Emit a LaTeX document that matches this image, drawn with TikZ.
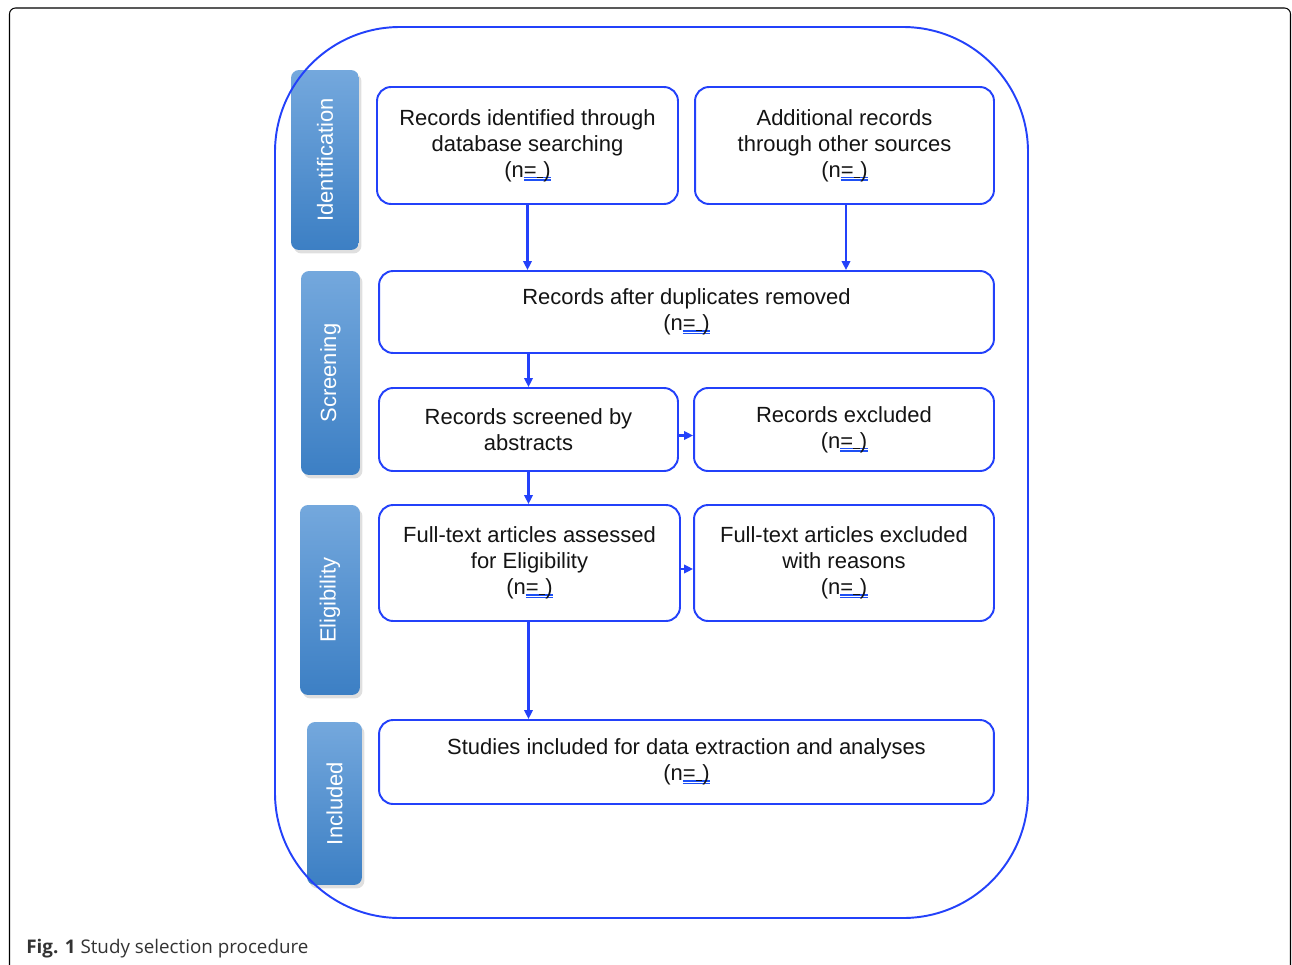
\documentclass[tikz,border=0pt]{standalone}
\usepackage{xcolor}
\usepackage{fontspec}
\setmainfont{Liberation Sans}
\newfontfamily\capfont{Open Sans}
\usetikzlibrary{shadows,arrows.meta}
\tikzset{>={Triangle[width=0.17cm,length=0.18cm]}}
\definecolor{frameblue}{RGB}{35,65,250}
\definecolor{phasetop}{RGB}{116,168,221}
\definecolor{phasebot}{RGB}{60,127,196}
\definecolor{ulblue}{RGB}{30,80,245}
\tikzset{
  stagebox/.style={draw=frameblue, line width=1.1pt, rounded corners=0.28cm, fill=white,
    align=center, inner sep=0pt, text=black!92, font=\fontsize{12.5}{14.8}\selectfont},
  phase/.style={rounded corners=0.16cm, top color=phasetop, bottom color=phasebot,
    inner sep=0pt, drop shadow={opacity=0.25, shadow xshift=0.05cm, shadow yshift=-0.07cm}},
  phasetext/.style={rotate=90, text=white, inner sep=0pt, font=\fontsize{12.5}{14.5}\selectfont},
  flow/.style={->, frameblue, line width=1.2pt},
}
\newcommand{\ncount}{(n\rlap{\color{ulblue}\rule[-0.05em]{1.25em}{0.07em}}\rlap{\color{ulblue}\rule[-0.17em]{1.25em}{0.07em}}=\rule[-0.02em]{0.3em}{0.05em})}

\begin{document}
\begin{tikzpicture}[x=0.02cm, y=-0.02cm]
    \useasboundingbox (0,0) rectangle (1292,964);
    \draw[line width=0.6pt, rounded corners=0.12cm] (9.5,975) -- (9.5,8) -- (1290.5,8) -- (1290.5,975);

    \node[phase, minimum width=1.36cm, minimum height=3.6cm] (phIdent) at (325,160) {};
    \node[phase, minimum width=1.18cm, minimum height=4.08cm] (phScreen) at (330.5,373) {};
    \node[phase, minimum width=1.2cm, minimum height=3.8cm] (phElig) at (330,600) {};
    \node[phase, minimum width=1.1cm, minimum height=3.26cm] (phIncl) at (334.5,803.5) {};
    \node[phasetext] (tIdent) at (phIdent) {Identification};
    \node[phasetext] (tScreen) at (phScreen) {Screening};
    \node[phasetext] (tElig) at (phElig) {Eligibility};
    \node[phasetext] (tIncl) at (phIncl) {Included};

    \draw[frameblue, line width=1.1pt, rounded corners=2.5cm] (275,27) rectangle (1028,918);

    \node[stagebox, minimum width=6.02cm, minimum height=2.34cm] (dbsearch) at (527.5,145.5)
        {Records identified through\\database searching\\\ncount};
    \node[stagebox, minimum width=5.98cm, minimum height=2.34cm] (othersrc) at (844.5,145.5)
        {Additional records\\through other sources\\\ncount};
    \node[stagebox, minimum width=12.3cm, minimum height=1.64cm] (dedup) at (686.5,312)
        {Records after duplicates removed\\\ncount};
    \node[stagebox, minimum width=5.98cm, minimum height=1.66cm] (screened) at (528.5,429.5)
        {Records screened by\\abstracts};
    \node[stagebox, minimum width=6cm, minimum height=1.66cm] (excluded) at (844,429.5)
        {Records excluded\\\ncount};
    \node[stagebox, minimum width=6.02cm, minimum height=2.32cm] (fulltext) at (529.5,563)
        {Full-text articles assessed\\for Eligibility\\\ncount};
    \node[stagebox, minimum width=6cm, minimum height=2.32cm] (ftexcl) at (844,563)
        {Full-text articles excluded\\with reasons\\\ncount};
    \node[stagebox, minimum width=12.3cm, minimum height=1.68cm] (included) at (686.5,762)
        {Studies included for data extraction and analyses\\\ncount};

    \draw[flow] (dbsearch.south) -- (dbsearch.south |- dedup.north);
    \draw[flow] ([xshift=0.03cm]othersrc.south) -- ([xshift=0.03cm]othersrc.south |- dedup.north);
    \draw[flow] (dedup.south -| screened.north) -- (screened.north);
    \draw[flow] ([yshift=-0.12cm]screened.east) -- ([yshift=-0.12cm]excluded.west);
    \draw[flow] (screened.south) -- (screened.south |- fulltext.north);
    \draw[flow] ([yshift=-0.12cm]fulltext.east) -- ([yshift=-0.12cm]ftexcl.west);
    \draw[flow] (fulltext.south -| screened.south) -- (screened.south |- included.north);

    \node[anchor=base west, inner sep=0pt, text=black!80, font=\capfont\fontsize{10.7}{12}\selectfont] (caption) at (26,953)
        {\textbf{Fig. 1} Study selection procedure};
\end{tikzpicture}
\end{document}
